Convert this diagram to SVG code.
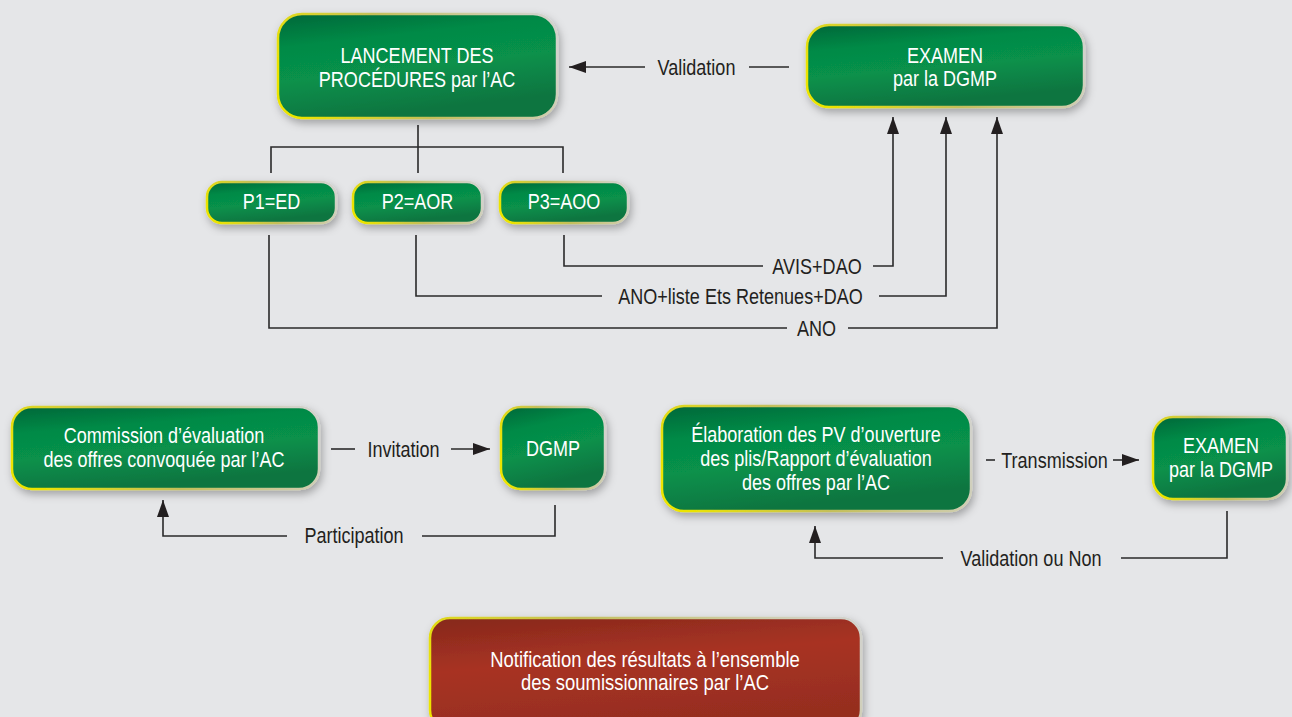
<svg xmlns="http://www.w3.org/2000/svg" width="1292" height="717" viewBox="0 0 1292 717">
<defs>
<style>
.bg{fill:#e5e6e8}
.g{fill:url(#gf);stroke:url(#gs);stroke-width:2.5;filter:url(#sh)}
.r{fill:url(#rf);stroke:url(#gs);stroke-width:2.5;filter:url(#sh)}
.bt{font-family:"Liberation Sans",Arial,sans-serif;font-size:22px;fill:#ffffff;text-anchor:middle}
.lt{font-family:"Liberation Sans",Arial,sans-serif;font-size:22px;fill:#231f20;text-anchor:middle}
.c{fill:none;stroke:#2a2a2a;stroke-width:1.6}
.a{marker-end:url(#ah)}
</style>
<linearGradient id="gf" x1="0" y1="0" x2="0.3" y2="1">
<stop offset="0" stop-color="#06673a"/>
<stop offset="0.3" stop-color="#058a46"/>
<stop offset="0.6" stop-color="#07914b"/>
<stop offset="1" stop-color="#077440"/>
</linearGradient>
<linearGradient id="rf" x1="0" y1="0" x2="0.3" y2="1">
<stop offset="0" stop-color="#86281c"/>
<stop offset="0.45" stop-color="#a83323"/>
<stop offset="1" stop-color="#962d1f"/>
</linearGradient>
<linearGradient id="gs" x1="0" y1="0.6" x2="1" y2="0.4">
<stop offset="0" stop-color="#ece400"/>
<stop offset="0.45" stop-color="#c4bf5a"/>
<stop offset="1" stop-color="#d2d2ca"/>
</linearGradient>
<filter id="sh" x="-10%" y="-20%" width="125%" height="150%">
<feDropShadow dx="2" dy="4" stdDeviation="4" flood-color="#000" flood-opacity="0.3"/>
</filter>
<marker id="ah" markerUnits="userSpaceOnUse" markerWidth="17" markerHeight="12" refX="17" refY="6" orient="auto">
<path d="M0,0 L17,6 L0,12 z" fill="#231f20"/>
</marker>
</defs>
<rect class="bg" x="0" y="0" width="1292" height="717"/>

<g id="connectors">
<path class="c" d="M789,67 H749"/>
<path class="c a" d="M645,67 H569"/>
<path class="c" d="M418,125 V173 M271,173 V147 H563 V173"/>
<path class="c" d="M564,235 V266 H763"/>
<path class="c a" d="M873,266 H893 V117"/>
<path class="c" d="M416,235 V296 H602"/>
<path class="c a" d="M879,296 H946 V117"/>
<path class="c" d="M269,235 V328 H787"/>
<path class="c a" d="M848,328 H997 V117"/>
<path class="c" d="M331,449 H355"/>
<path class="c a" d="M451,449 H490"/>
<path class="c" d="M555,505 V536 H422"/>
<path class="c a" d="M287,536 H163 V500"/>
<path class="c" d="M986,460 H995"/>
<path class="c a" d="M1113,460 H1139"/>
<path class="c" d="M1227,511 V558 H1121"/>
<path class="c a" d="M943,558 H815 V526"/>
<g id="connector-labels">
<text class="lt" transform="translate(696.5,75) scale(0.82,1)">Validation</text>
<text class="lt" transform="translate(817,274) scale(0.82,1)">AVIS+DAO</text>
<text class="lt" transform="translate(740.5,304) scale(0.82,1)">ANO+liste Ets Retenues+DAO</text>
<text class="lt" transform="translate(816.5,336) scale(0.82,1)">ANO</text>
<text class="lt" transform="translate(403.5,457) scale(0.82,1)">Invitation</text>
<text class="lt" transform="translate(354,543) scale(0.82,1)">Participation</text>
<text class="lt" transform="translate(1054.5,468) scale(0.82,1)">Transmission</text>
<text class="lt" transform="translate(1031,566) scale(0.82,1)">Validation ou Non</text>
</g>
</g>

<g id="lancement">
<rect class="g" x="278" y="14" width="279" height="104" rx="24"/>
<text class="bt" transform="translate(417,63) scale(0.82,1)">LANCEMENT DES</text>
<text class="bt" transform="translate(417,87) scale(0.82,1)">PROCÉDURES par l’AC</text>
</g>
<g id="examen-top">
<rect class="g" x="807" y="25" width="277" height="82" rx="22"/>
<text class="bt" transform="translate(945,63) scale(0.82,1)">EXAMEN</text>
<text class="bt" transform="translate(945,86) scale(0.82,1)">par la DGMP</text>
</g>
<g id="p1">
<rect class="g" x="207" y="182" width="129" height="41" rx="15"/>
<text class="bt" transform="translate(271.5,209) scale(0.82,1)">P1=ED</text>
</g>
<g id="p2">
<rect class="g" x="353" y="182" width="129" height="41" rx="15"/>
<text class="bt" transform="translate(417.5,209) scale(0.82,1)">P2=AOR</text>
</g>
<g id="p3">
<rect class="g" x="500" y="182" width="128" height="41" rx="15"/>
<text class="bt" transform="translate(564,209) scale(0.82,1)">P3=AOO</text>
</g>
<g id="commission">
<rect class="g" x="12" y="407" width="307" height="82" rx="20"/>
<text class="bt" transform="translate(164,443) scale(0.82,1)">Commission d’évaluation</text>
<text class="bt" transform="translate(164,467) scale(0.82,1)">des offres convoquée par l’AC</text>
</g>
<g id="dgmp">
<rect class="g" x="501" y="407" width="104" height="82" rx="20"/>
<text class="bt" transform="translate(553,456) scale(0.82,1)">DGMP</text>
</g>
<g id="elaboration">
<rect class="g" x="662" y="406" width="309" height="105" rx="22"/>
<text class="bt" transform="translate(816,442) scale(0.82,1)">Élaboration des PV d’ouverture</text>
<text class="bt" transform="translate(816,466) scale(0.82,1)">des plis/Rapport d’évaluation</text>
<text class="bt" transform="translate(816,490) scale(0.82,1)">des offres par l’AC</text>
</g>
<g id="examen-right">
<rect class="g" x="1153" y="417" width="134" height="82" rx="20"/>
<text class="bt" transform="translate(1221,453) scale(0.82,1)">EXAMEN</text>
<text class="bt" transform="translate(1221,477) scale(0.82,1)">par la DGMP</text>
</g>
<g id="notification">
<rect class="r" x="430" y="618" width="431" height="112" rx="20"/>
<text class="bt" style="font-size:22.5px" transform="translate(645,667) scale(0.82,1)">Notification des résultats à l’ensemble</text>
<text class="bt" style="font-size:22.5px" transform="translate(645,690) scale(0.82,1)">des soumissionnaires par l’AC</text>
</g>
</svg>
